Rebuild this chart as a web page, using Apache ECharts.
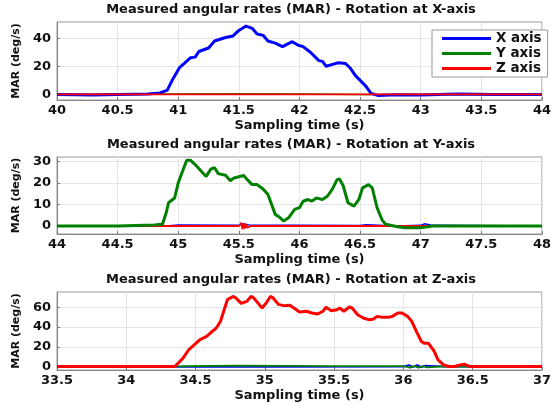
<!DOCTYPE html>
<html>
<head>
<meta charset="utf-8">
<script src="https://cdn.jsdelivr.net/npm/echarts@6/dist/echarts.min.js"></script>
<style>html,body{margin:0;padding:0;background:#fff}#c{width:554px;height:405px}</style>
</head>
<body>
<div id="c"></div>
<script>
// ---------- Data ----------
const titles = [
  'Measured angular rates (MAR) - Rotation at X-axis',
  'Measured angular rates (MAR) - Rotation at Y-axis',
  'Measured angular rates (MAR) - Rotation at Z-axis'
];
const seriesNames = ['X axis', 'Y axis', 'Z axis'];
const xLabel = 'Sampling time (s)';
const yLabel = 'MAR (deg/s)';

// Panel 1 (rotation at X-axis)
const p1xRange = [40, 44];
const p1yTicks = [0, 20, 40];
const p1BlueT = [40, 40.3, 40.5, 40.75, 40.85, 40.91, 40.95, 41.01, 41.05, 41.1, 41.14, 41.17, 41.25, 41.3, 41.39, 41.45, 41.5, 41.56, 41.61, 41.65, 41.7, 41.74, 41.8, 41.86, 41.94, 41.99, 42.03, 42.09, 42.16, 42.19, 42.22, 42.28, 42.32, 42.38, 42.42, 42.46, 42.5, 42.55, 42.59, 42.65, 42.8, 43.0, 43.3, 43.6, 44];
const p1BlueV = [0, -0.4, 0, 0.3, 1, 3, 10, 19, 22, 26, 26.5, 30.5, 33, 38, 40.5, 41.5, 45.5, 48.6, 47, 43, 42, 38, 36.5, 34, 37.5, 35, 34, 30, 24, 23.5, 20, 21.5, 22.5, 22, 18.6, 13.5, 10, 5.5, 0.7, -0.8, -0.3, -0.5, 0.2, 0, 0];
const p1GreenT = [40, 41, 41.5, 42, 42.5, 43, 44];
const p1GreenV = [0, 0.2, 0.4, 0.2, 0, 0, 0];
const p1RedT = [40, 41, 42, 43, 44];
const p1RedV = [0, 0, 0, 0, 0];

// Panel 2 (rotation at Y-axis)
const p2xRange = [44, 48];
const p2yTicks = [0, 10, 20, 30];
const p2GreenT = [44, 44.5, 44.8, 44.87, 44.9, 44.92, 44.97, 45.0, 45.03, 45.07, 45.1, 45.14, 45.19, 45.23, 45.27, 45.3, 45.33, 45.39, 45.43, 45.46, 45.54, 45.57, 45.61, 45.65, 45.7, 45.74, 45.8, 45.83, 45.87, 45.91, 45.96, 46.0, 46.03, 46.07, 46.1, 46.14, 46.19, 46.23, 46.27, 46.31, 46.33, 46.36, 46.4, 46.45, 46.49, 46.52, 46.57, 46.6, 46.64, 46.68, 46.71, 46.81, 46.87, 47.0, 47.1, 48];
const p2GreenV = [0, 0, 0.5, 0.8, 6, 10.8, 13, 20, 24.6, 30.5, 30.5, 28.5, 25.4, 23, 26.5, 27, 24.3, 23.5, 21, 22.3, 23.4, 21.5, 19.2, 19.2, 17.2, 14.6, 5.4, 4.3, 2.3, 3.8, 7.7, 8.5, 11.5, 12.3, 11.5, 13, 12.3, 13.8, 17, 21.5, 21.8, 18.8, 10.8, 9.2, 12.3, 17.7, 19.2, 17.7, 8.5, 3, 0.8, -0.3, -0.8, -0.8, 0, 0];
const p2BlueT = [44, 44.9, 45.0, 45.5, 45.53, 45.6, 46.0, 46.5, 46.55, 46.8, 47.0, 47.03, 47.1, 48];
const p2BlueV = [0, 0, 0.5, 0.3, 1, 0.3, 0.3, 0.2, 0.6, 0, 0.3, 1, 0.3, 0];
const p2RedT = [44, 45.5, 45.52, 45.53, 45.54, 45.55, 45.56, 45.57, 45.6, 47, 48];
const p2RedV = [0, 0, 1.5, -1.5, 1.2, -1.2, 1, -0.8, 0, 0, 0];

// Panel 3 (rotation at Z-axis)
const p3xRange = [33.5, 37];
const p3yTicks = [0, 20, 40, 60];
const p3RedT = [33.5, 34.0, 34.35, 34.36, 34.41, 34.45, 34.49, 34.53, 34.58, 34.62, 34.65, 34.68, 34.71, 34.73, 34.77, 34.79, 34.83, 34.87, 34.9, 34.92, 34.96, 34.98, 35.01, 35.04, 35.06, 35.1, 35.14, 35.18, 35.21, 35.25, 35.3, 35.34, 35.38, 35.42, 35.44, 35.48, 35.52, 35.54, 35.57, 35.61, 35.63, 35.67, 35.71, 35.75, 35.78, 35.81, 35.85, 35.89, 35.92, 35.96, 35.99, 36.03, 36.06, 36.1, 36.13, 36.15, 36.18, 36.22, 36.25, 36.29, 36.33, 36.37, 36.41, 36.44, 36.48, 36.6, 37];
const p3RedV = [0, 0, 0, 1.7, 8.5, 17, 22, 27, 30.5, 35.6, 39, 45.8, 59, 67.8, 71, 69.5, 64, 66, 71, 69.5, 62.7, 59.3, 64.4, 71, 69.5, 62.7, 61.7, 62, 59.3, 55.3, 56, 54.2, 53.2, 56, 60, 56.6, 57.6, 59.3, 56, 60.3, 59.3, 52.5, 49.2, 47.5, 48, 50.8, 49.8, 49.8, 50.8, 54.2, 54.2, 50.8, 45.8, 33.9, 25.4, 23.7, 23.7, 16, 6.8, 1.7, 0, 0, 1.7, 2.4, 0, 0, 0];
const p3GreenT = [33.5, 34.4, 34.8, 35.5, 36.0, 36.05, 36.08, 36.11, 36.14, 36.17, 36.3, 36.5, 37];
const p3GreenV = [0, 0.3, 1, 0.5, 0.5, -1, 0.5, -1, 0.5, -0.8, 0.3, 0, 0];
const p3BlueT = [33.5, 34.5, 35.0, 36.0, 36.04, 36.07, 36.1, 36.13, 36.16, 36.3, 37];
const p3BlueV = [0, -0.3, -0.3, 0, 1.5, -0.5, 1.5, -0.5, 1, 0, 0];

// y-axis limits read from the frame
const yRanges = [[-4, 51.5], [-3.7, 32], [-3.5, 75.5]];

// ---------- Chart ----------
const FONT = 'DejaVu Sans';
const COLORS = {'X axis': '#0000ff', 'Y axis': '#008000', 'Z axis': '#ff0000'};
const zip = (t, v) => t.map((x, i) => [x, v[i]]);

const gridTops = [22, 157, 292];
const gridHeights = [78, 77, 78];
const xRanges = [p1xRange, p2xRange, p3xRange];
const yTicks = [p1yTicks, p2yTicks, p3yTicks];

const grids = gridTops.map((t, i) => ({
  left: 57, right: 10, top: t, height: gridHeights[i],
  show: true, borderColor: '#9a9a9a', borderWidth: 1, backgroundColor: '#fff'
}));

const xAxes = xRanges.map((r, i) => ({
  type: 'value', gridIndex: i, min: r[0], max: r[1], interval: 0.5,
  name: xLabel, nameLocation: 'middle', nameGap: 19,
  nameTextStyle: {fontFamily: FONT, fontWeight: 'bold', fontSize: 13, color: '#111'},
  axisLine: {show: true, onZero: false, lineStyle: {color: '#888', width: 1}},
  axisTick: {show: true, inside: true, length: 3, lineStyle: {color: '#777'}},
  axisLabel: {fontFamily: FONT, fontWeight: 'bold', fontSize: 13, color: '#111', margin: 4,
    formatter: v => String(v)},
  splitLine: {show: true, lineStyle: {color: '#e4e4e4', width: 1}}
}));

const yAxes = yRanges.map((r, i) => ({
  type: 'value', gridIndex: i, min: r[0], max: r[1],
  name: yLabel, nameLocation: 'middle', nameGap: 33,
  nameTextStyle: {fontFamily: FONT, fontWeight: 'bold', fontSize: 11, color: '#111'},
  axisLine: {show: true, lineStyle: {color: '#888', width: 1}},
  axisTick: {show: true, inside: true, length: 3, customValues: yTicks[i], lineStyle: {color: '#777'}},
  axisLabel: {fontFamily: FONT, fontWeight: 'bold', fontSize: 13, color: '#111', margin: 6,
    customValues: yTicks[i]},
  splitLine: {show: true, lineStyle: {color: '#e4e4e4', width: 1}}
}));

function line(name, idx, t, v, width, z) {
  return {
    name, type: 'line', xAxisIndex: idx, yAxisIndex: idx,
    data: zip(t, v), showSymbol: false, symbol: 'none', animation: false,
    lineStyle: {color: COLORS[name], width: width}, itemStyle: {color: COLORS[name]},
    z: z, clip: true
  };
}

const series = [
  line('X axis', 0, p1BlueT, p1BlueV, 3, 3),
  line('Y axis', 0, p1GreenT, p1GreenV, 1.5, 2),
  line('Z axis', 0, p1RedT, p1RedV, 1.8, 4),
  line('X axis', 1, p2BlueT, p2BlueV, 1.5, 2),
  line('Z axis', 1, p2RedT, p2RedV, 1.8, 3),
  line('Y axis', 1, p2GreenT, p2GreenV, 3, 4),
  line('Z axis', 2, p3RedT, p3RedV, 3, 4),
  line('Y axis', 2, p3GreenT, p3GreenV, 1.8, 3),
  line('X axis', 2, p3BlueT, p3BlueV, 1.8, 2)
];

const chart = echarts.init(document.getElementById('c'), null, {renderer: 'canvas'});
chart.setOption({
  animation: false,
  backgroundColor: '#fff',
  title: titles.map((t, i) => ({
    text: t, left: 291, textAlign: 'center', top: [3, 138, 273][i], padding: 0,
    textStyle: {fontFamily: FONT, fontWeight: 'bold', fontSize: 13, color: '#111'}
  })),
  legend: {
    data: seriesNames, orient: 'vertical', left: 432, top: 30,
    icon: 'rect', itemWidth: 49, itemHeight: 3, itemGap: 0,
    backgroundColor: '#fff', borderColor: '#999', borderWidth: 1,
    padding: [1, 6, 1, 10],
    textStyle: {fontFamily: FONT, fontWeight: 'bold', fontSize: 13.5, color: '#111', lineHeight: 15},
    z: 10
  },
  grid: grids,
  xAxis: xAxes,
  yAxis: yAxes,
  series: series
});
</script>
</body>
</html>
